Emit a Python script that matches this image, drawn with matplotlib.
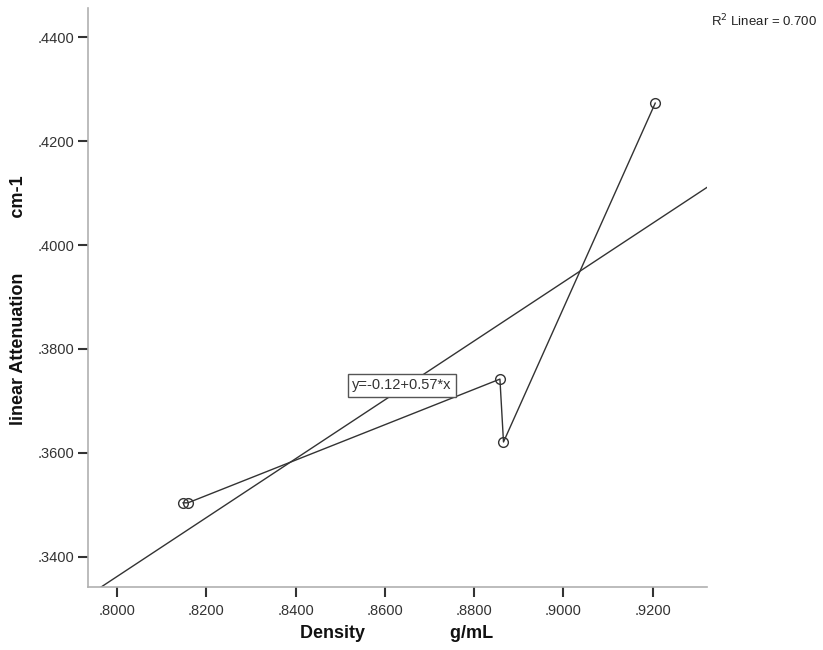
import matplotlib.pyplot as plt
import numpy as np
from matplotlib.ticker import FuncFormatter

plt.rcParams['font.family'] = ['Liberation Sans', 'DejaVu Sans']

# 데이터
density = [0.8148, 0.8159, 0.8858, 0.8866, 0.9206]
attenuation = [0.3504, 0.3504, 0.3742, 0.3621, 0.4273]
x_ticks = [0.80, 0.82, 0.84, 0.86, 0.88, 0.90, 0.92]
y_ticks = [0.34, 0.36, 0.38, 0.40, 0.42, 0.44]

fig = plt.figure(figsize=(8.23, 6.5), dpi=100)
ax = fig.add_axes([88 / 823, 1 - 587 / 650, (707 - 88) / 823, (587 - 8) / 650])
ax.set_xlim(0.7935, 0.9322)
ax.set_ylim(0.3342, 0.4456)

# 데이터 선과 점
ax.plot(density, attenuation, color='#333333', lw=1.0, marker='o', ms=7,
        mfc='none', mec='#333333', mew=1.0)

# 회귀선
slope, intercept = np.polyfit(density, attenuation, 1)
xx = np.array(ax.get_xlim())
ax.plot(xx, intercept + slope * xx, color='#333333', lw=1.0)

ax.text(0.8638, 0.3730, 'y=-0.12+0.57*x', ha='center', va='center', fontsize=10.5,
        color='#333333',
        bbox=dict(boxstyle='square,pad=0.3', fc='white', ec='#555555', lw=1.0))

fig.text(0.993, 0.968, 'R$^2$ Linear = 0.700', ha='right', va='center', fontsize=9.5,
         color='#222222')

# 축 스타일
for side in ['top', 'right']:
    ax.spines[side].set_visible(False)
for side in ['left', 'bottom']:
    ax.spines[side].set_color('#b0b0b0')
    ax.spines[side].set_linewidth(1.2)

ax.set_xticks(x_ticks)
ax.set_yticks(y_ticks)
fmt = FuncFormatter(lambda v, p: ('%.4f' % v).lstrip('0'))
ax.xaxis.set_major_formatter(fmt)
ax.yaxis.set_major_formatter(fmt)
ax.tick_params(axis='both', direction='out', length=7, width=1.5, color='#333333',
               labelsize=10.5, labelcolor='#333333')
ax.tick_params(axis='x', pad=5)
ax.tick_params(axis='y', pad=3)

# 축 제목
fig.text(397 / 823, 1 - 634 / 650, 'Density                 g/mL', ha='center', va='center',
         fontsize=13, fontweight='bold', color='#111111')
fig.text(19 / 823, 1 - 300 / 650, 'linear Attenuation           cm-1', ha='center', va='center',
         rotation=90, fontsize=13, fontweight='bold', color='#111111')

plt.savefig('out.png', dpi=100)
